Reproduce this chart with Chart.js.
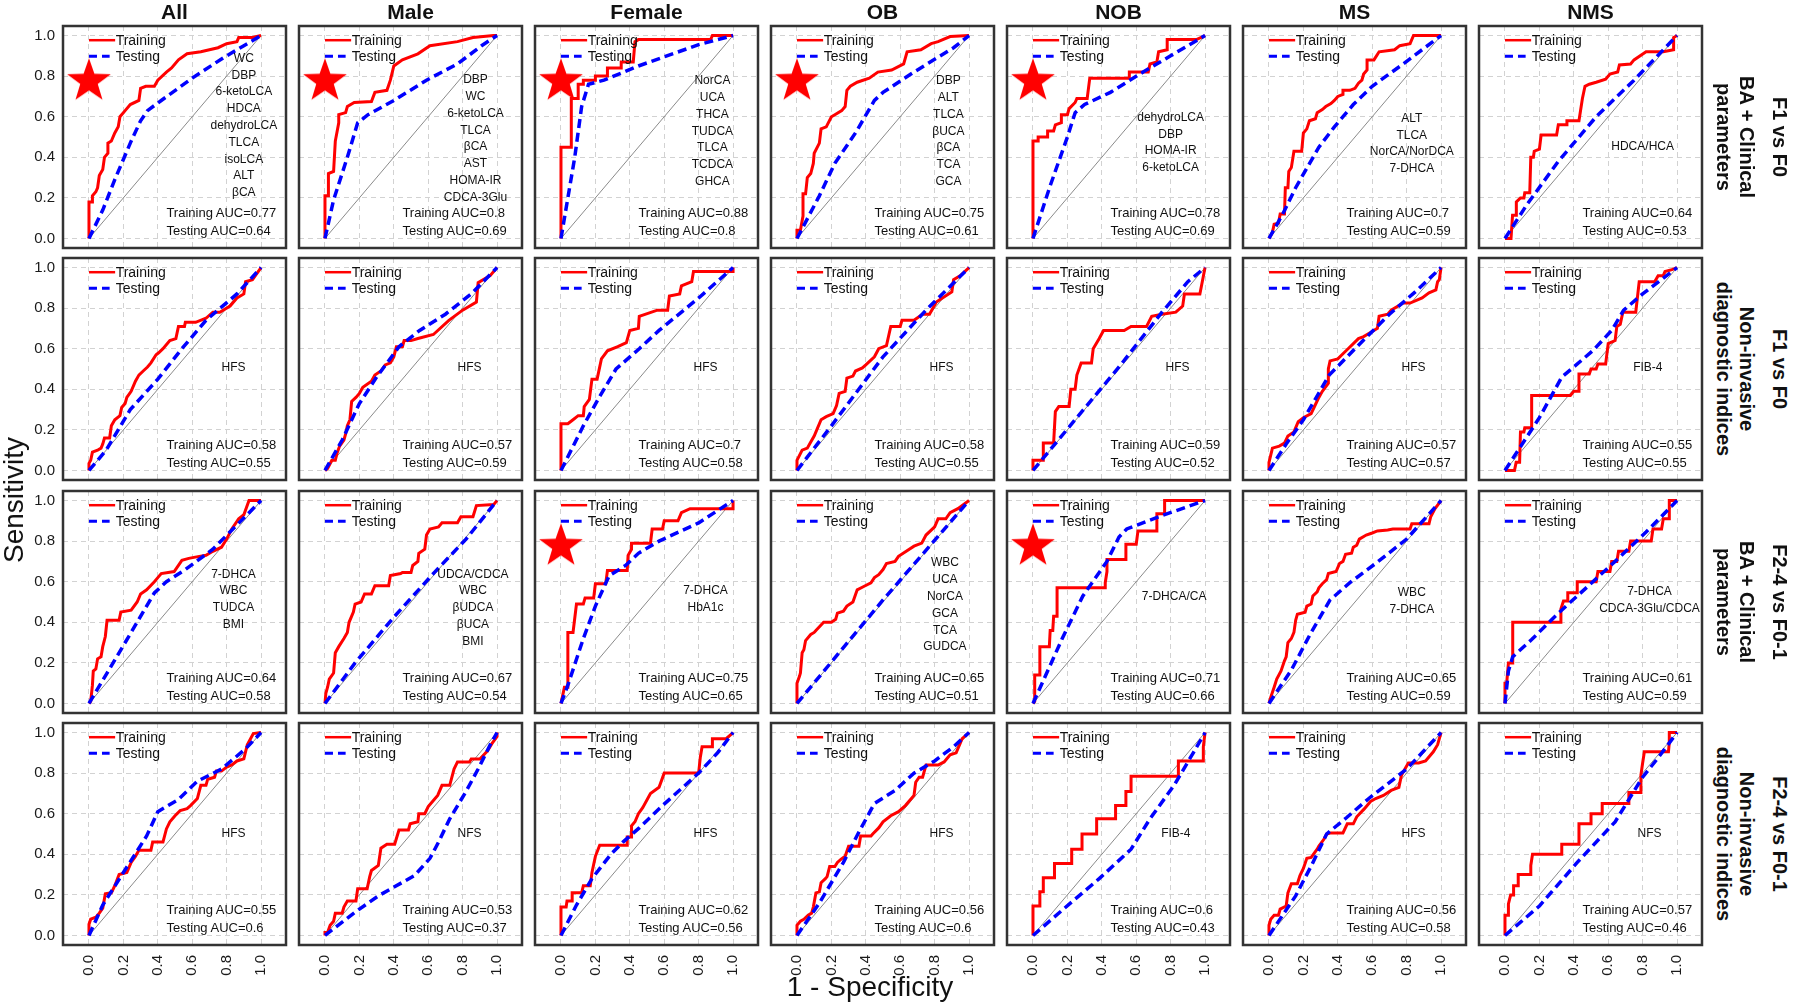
<!DOCTYPE html>
<html>
<head>
<meta charset="utf-8">
<script src="https://cdn.jsdelivr.net/npm/chart.js@4.4.1/dist/chart.umd.min.js"></script>
<style>
  body { margin: 0; background: #fff; }
  #fig { position: relative; width: 1800px; height: 1002px; overflow: hidden;
         font-family: "Liberation Sans", Arial, Helvetica, sans-serif; color: #111; background: #fff; }
  #fig canvas { position: absolute; }
  .lbl { position: absolute; white-space: nowrap; line-height: 1; }
  .ctr { transform: translate(-50%, -50%); text-align: center; }
  .lft { transform: translate(0, -50%); }
  .title { font-size: 21px; font-weight: bold; }
  .legend { font-size: 14px; }
  .feat { font-size: 12px; }
  .auc { font-size: 13px; }
  .rowgrp { font-size: 20px; font-weight: bold; line-height: 23px; text-align: center;
            transform: translate(-50%, -50%) rotate(90deg); }
  .rowcmp { font-size: 20px; font-weight: bold; transform: translate(-50%, -50%) rotate(90deg); }
  .axis { font-size: 28px; }
</style>
</head>
<body>
<div id="fig"></div>
<script>
// ---- labels ----
const COLUMNS = ['All', 'Male', 'Female', 'OB', 'NOB', 'MS', 'NMS'];
const ROW_GROUP = [['BA + Clinical', 'parameters'], ['Non-invasive', 'diagnostic indices'],
                   ['BA + Clinical', 'parameters'], ['Non-invasive', 'diagnostic indices']];
const ROW_CONTRAST = ['F1 vs F0', 'F1 vs F0', 'F2-4 vs F0-1', 'F2-4 vs F0-1'];
const TICKS = [0, 0.2, 0.4, 0.6, 0.8, 1.0];

// ---- AUC values (rows x columns) ----
const TRAIN_AUC = [
  [0.77, 0.8, 0.88, 0.75, 0.78, 0.7, 0.64],
  [0.58, 0.57, 0.7, 0.58, 0.59, 0.57, 0.55],
  [0.64, 0.67, 0.75, 0.65, 0.71, 0.65, 0.61],
  [0.55, 0.53, 0.62, 0.56, 0.6, 0.56, 0.57]
];
const TEST_AUC = [
  [0.64, 0.69, 0.8, 0.61, 0.69, 0.59, 0.53],
  [0.55, 0.59, 0.58, 0.55, 0.52, 0.57, 0.55],
  [0.58, 0.54, 0.65, 0.51, 0.66, 0.59, 0.59],
  [0.6, 0.37, 0.56, 0.6, 0.43, 0.58, 0.46]
];

// ---- selected features per panel ----
const FEATURES = [
  [['WC', 'DBP', '6-ketoLCA', 'HDCA', 'dehydroLCA', 'TLCA', 'isoLCA', 'ALT', 'βCA'],
   ['DBP', 'WC', '6-ketoLCA', 'TLCA', 'βCA', 'AST', 'HOMA-IR', 'CDCA-3Glu'],
   ['NorCA', 'UCA', 'THCA', 'TUDCA', 'TLCA', 'TCDCA', 'GHCA'],
   ['DBP', 'ALT', 'TLCA', 'βUCA', 'βCA', 'TCA', 'GCA'],
   ['dehydroLCA', 'DBP', 'HOMA-IR', '6-ketoLCA'],
   ['ALT', 'TLCA', 'NorCA/NorDCA', '7-DHCA'],
   ['HDCA/HCA']],
  [['HFS'], ['HFS'], ['HFS'], ['HFS'], ['HFS'], ['HFS'], ['FIB-4']],
  [['7-DHCA', 'WBC', 'TUDCA', 'BMI'],
   ['UDCA/CDCA', 'WBC', 'βUDCA', 'βUCA', 'BMI'],
   ['7-DHCA', 'HbA1c'],
   ['WBC', 'UCA', 'NorCA', 'GCA', 'TCA', 'GUDCA'],
   ['7-DHCA/CA'],
   ['WBC', '7-DHCA'],
   ['7-DHCA', 'CDCA-3Glu/CDCA']],
  [['HFS'], ['NFS'], ['HFS'], ['HFS'], ['FIB-4'], ['HFS'], ['NFS']]
];
const STARRED = [
  [1, 1, 1, 1, 1, 0, 0],
  [0, 0, 0, 0, 0, 0, 0],
  [0, 0, 1, 0, 1, 0, 0],
  [0, 0, 0, 0, 0, 0, 0]
];

// ---- ROC curves, [1 - specificity, sensitivity] ----
const TRAIN_F1_BA = [
  [[0,0],[0,0.18],[0.02,0.18],[0.02,0.21],[0.04,0.23],[0.05,0.25],[0.06,0.31],[0.08,0.34],[0.09,0.40],[0.11,0.42],[0.11,0.47],[0.13,0.48],[0.15,0.52],[0.17,0.55],[0.18,0.60],[0.21,0.63],[0.24,0.66],[0.29,0.68],[0.30,0.74],[0.33,0.75],[0.38,0.75],[0.40,0.78],[0.45,0.82],[0.48,0.84],[0.52,0.88],[0.57,0.91],[0.65,0.92],[0.75,0.94],[0.80,0.96],[0.86,0.97],[0.87,0.99],[0.95,0.99],[1,1]],
  [[0,0],[0,0.21],[0.02,0.21],[0.02,0.32],[0.05,0.33],[0.06,0.48],[0.08,0.57],[0.08,0.61],[0.12,0.62],[0.13,0.65],[0.17,0.67],[0.27,0.675],[0.29,0.72],[0.36,0.73],[0.38,0.78],[0.40,0.85],[0.45,0.88],[0.54,0.91],[0.61,0.95],[0.77,0.97],[0.86,0.99],[0.98,1],[1,1]],
  [[0,0],[0,0.45],[0.06,0.45],[0.06,0.69],[0.10,0.69],[0.10,0.76],[0.13,0.76],[0.13,0.78],[0.20,0.78],[0.20,0.80],[0.27,0.80],[0.27,0.84],[0.35,0.84],[0.35,0.87],[0.42,0.87],[0.43,0.97],[0.45,0.98],[0.87,0.98],[0.88,1],[1,1]],
  [[0,0],[0,0.04],[0.02,0.04],[0.035,0.11],[0.035,0.22],[0.05,0.22],[0.06,0.30],[0.08,0.32],[0.095,0.37],[0.10,0.42],[0.13,0.47],[0.14,0.54],[0.17,0.55],[0.20,0.60],[0.22,0.61],[0.26,0.63],[0.28,0.65],[0.29,0.73],[0.31,0.75],[0.35,0.77],[0.42,0.79],[0.47,0.82],[0.55,0.83],[0.62,0.86],[0.64,0.92],[0.72,0.93],[0.78,0.96],[0.82,0.97],[0.89,0.995],[1,1]],
  [[0,0],[0,0.48],[0.03,0.48],[0.03,0.50],[0.085,0.50],[0.085,0.53],[0.12,0.53],[0.13,0.56],[0.165,0.57],[0.165,0.61],[0.2,0.61],[0.21,0.64],[0.245,0.67],[0.255,0.69],[0.315,0.69],[0.33,0.79],[0.56,0.79],[0.56,0.82],[0.67,0.82],[0.68,0.86],[0.72,0.87],[0.73,0.92],[0.78,0.93],[0.78,0.98],[0.95,0.98],[1,1]],
  [[0,0],[0.02,0.03],[0.03,0.07],[0.055,0.075],[0.065,0.12],[0.09,0.12],[0.095,0.25],[0.11,0.25],[0.115,0.33],[0.13,0.35],[0.145,0.43],[0.19,0.43],[0.20,0.52],[0.22,0.54],[0.235,0.58],[0.27,0.59],[0.28,0.62],[0.31,0.635],[0.33,0.65],[0.36,0.665],[0.38,0.68],[0.40,0.70],[0.43,0.71],[0.43,0.73],[0.47,0.73],[0.50,0.74],[0.52,0.765],[0.54,0.78],[0.55,0.81],[0.57,0.83],[0.57,0.88],[0.61,0.88],[0.64,0.92],[0.73,0.93],[0.76,0.95],[0.82,0.96],[0.84,1],[1,1]],
  [[0,0],[0.035,0],[0.044,0.115],[0.066,0.115],[0.066,0.18],[0.09,0.20],[0.11,0.20],[0.115,0.225],[0.144,0.225],[0.15,0.40],[0.165,0.40],[0.17,0.43],[0.20,0.44],[0.21,0.51],[0.30,0.51],[0.31,0.56],[0.355,0.56],[0.36,0.58],[0.43,0.58],[0.45,0.69],[0.465,0.75],[0.49,0.76],[0.53,0.77],[0.585,0.785],[0.61,0.81],[0.655,0.82],[0.665,0.855],[0.73,0.86],[0.75,0.88],[0.82,0.92],[0.92,0.92],[0.98,0.93],[0.98,0.99],[1,1]]
];
const TEST_F1_BA = [
  [[0,0],[0.08,0.14],[0.15,0.29],[0.24,0.47],[0.30,0.58],[0.34,0.63],[0.42,0.68],[0.60,0.79],[0.78,0.89],[0.9,0.95],[1,1]],
  [[0,0],[0.05,0.19],[0.13,0.40],[0.19,0.57],[0.25,0.61],[0.40,0.68],[0.59,0.78],[0.77,0.86],[0.91,0.95],[1,1]],
  [[0,0],[0.04,0.2],[0.08,0.4],[0.12,0.65],[0.16,0.76],[0.25,0.78],[0.45,0.85],[0.8,0.955],[1,1]],
  [[0,0],[0.13,0.21],[0.22,0.37],[0.34,0.52],[0.45,0.68],[0.50,0.72],[0.68,0.82],[0.91,0.94],[1,1]],
  [[0,0],[0.1,0.26],[0.2,0.5],[0.245,0.62],[0.3,0.66],[0.45,0.72],[0.64,0.82],[0.8,0.9],[1,1]],
  [[0,0],[0.08,0.12],[0.155,0.25],[0.29,0.45],[0.38,0.55],[0.49,0.66],[0.6,0.75],[0.78,0.86],[1,1]],
  [[0,0],[0.13,0.17],[0.31,0.38],[0.53,0.6],[0.75,0.78],[1,1]]
];
const TRAIN_F1_NI = [
  [[0,0],[0,0.035],[0.01,0.05],[0.02,0.09],[0.05,0.10],[0.07,0.11],[0.08,0.13],[0.09,0.16],[0.12,0.16],[0.13,0.22],[0.15,0.25],[0.18,0.27],[0.19,0.31],[0.21,0.33],[0.22,0.36],[0.245,0.39],[0.27,0.44],[0.29,0.47],[0.315,0.49],[0.34,0.51],[0.36,0.53],[0.39,0.57],[0.405,0.58],[0.43,0.60],[0.47,0.64],[0.505,0.65],[0.52,0.71],[0.555,0.71],[0.56,0.73],[0.62,0.73],[0.68,0.75],[0.72,0.78],[0.76,0.78],[0.82,0.81],[0.86,0.85],[0.90,0.87],[0.91,0.93],[0.95,0.94],[1,1]],
  [[0,0],[0.015,0.01],[0.04,0.05],[0.06,0.05],[0.07,0.085],[0.085,0.12],[0.11,0.15],[0.12,0.18],[0.13,0.22],[0.145,0.25],[0.155,0.34],[0.18,0.36],[0.20,0.38],[0.22,0.41],[0.27,0.44],[0.29,0.47],[0.325,0.49],[0.35,0.52],[0.38,0.53],[0.40,0.56],[0.415,0.61],[0.45,0.61],[0.46,0.64],[0.50,0.64],[0.54,0.65],[0.63,0.67],[0.72,0.74],[0.80,0.79],[0.88,0.83],[0.89,0.925],[0.96,0.96],[1,1]],
  [[0,0],[0,0.23],[0.04,0.23],[0.07,0.25],[0.1,0.27],[0.13,0.27],[0.135,0.315],[0.165,0.35],[0.18,0.45],[0.21,0.45],[0.235,0.55],[0.27,0.59],[0.33,0.61],[0.38,0.63],[0.40,0.69],[0.45,0.70],[0.455,0.76],[0.56,0.79],[0.62,0.79],[0.63,0.86],[0.69,0.87],[0.70,0.91],[0.76,0.93],[0.77,0.98],[1,0.98],[1,1]],
  [[0,0],[0,0.05],[0.03,0.10],[0.06,0.11],[0.08,0.14],[0.10,0.17],[0.12,0.21],[0.14,0.25],[0.17,0.265],[0.21,0.28],[0.23,0.32],[0.245,0.38],[0.28,0.39],[0.29,0.455],[0.325,0.465],[0.34,0.49],[0.38,0.505],[0.40,0.52],[0.45,0.56],[0.475,0.60],[0.52,0.615],[0.545,0.71],[0.60,0.71],[0.61,0.74],[0.68,0.74],[0.73,0.77],[0.77,0.77],[0.81,0.83],[0.845,0.85],[0.9,0.88],[0.91,0.94],[0.95,0.96],[1,1]],
  [[0,0],[0,0.05],[0.06,0.05],[0.06,0.135],[0.12,0.135],[0.13,0.29],[0.15,0.315],[0.21,0.315],[0.22,0.40],[0.245,0.40],[0.255,0.47],[0.28,0.53],[0.34,0.53],[0.35,0.60],[0.385,0.65],[0.41,0.69],[0.53,0.69],[0.57,0.71],[0.66,0.71],[0.69,0.76],[0.75,0.77],[0.83,0.78],[0.87,0.81],[0.88,0.87],[0.97,0.87],[1,1]],
  [[0,0],[0,0.04],[0.02,0.11],[0.06,0.12],[0.09,0.135],[0.11,0.17],[0.145,0.19],[0.17,0.24],[0.2,0.26],[0.245,0.28],[0.27,0.325],[0.29,0.36],[0.31,0.39],[0.345,0.43],[0.345,0.50],[0.355,0.54],[0.40,0.55],[0.43,0.575],[0.46,0.60],[0.52,0.65],[0.55,0.66],[0.59,0.68],[0.63,0.70],[0.64,0.76],[0.69,0.77],[0.71,0.79],[0.78,0.825],[0.82,0.825],[0.89,0.85],[0.93,0.875],[0.97,0.89],[0.98,0.93],[0.99,0.94],[1,1]],
  [[0,0],[0.055,0],[0.065,0.04],[0.085,0.04],[0.09,0.19],[0.11,0.19],[0.115,0.21],[0.155,0.21],[0.155,0.37],[0.38,0.37],[0.40,0.39],[0.43,0.39],[0.43,0.475],[0.49,0.475],[0.50,0.50],[0.53,0.50],[0.54,0.525],[0.585,0.525],[0.60,0.625],[0.64,0.64],[0.65,0.71],[0.67,0.72],[0.685,0.78],[0.76,0.78],[0.78,0.93],[0.87,0.93],[0.89,0.96],[0.92,0.96],[0.93,0.98],[0.97,0.99],[1,1]]
];
const TEST_F1_NI = [
  [[0,0],[0.1,0.1],[0.24,0.30],[0.4,0.45],[0.54,0.6],[0.68,0.74],[0.86,0.87],[1,1]],
  [[0,0],[0.1,0.15],[0.2,0.33],[0.3,0.46],[0.43,0.61],[0.55,0.69],[0.7,0.77],[0.85,0.87],[1,1]],
  [[0,0],[0.13,0.22],[0.225,0.365],[0.32,0.5],[0.455,0.6],[0.57,0.69],[0.8,0.85],[1,1]],
  [[0,0],[0.2,0.22],[0.5,0.56],[0.75,0.79],[1,1]],
  [[0,0],[0.5,0.51],[0.75,0.78],[0.9,0.93],[1,1]],
  [[0,0],[0.1,0.13],[0.2,0.25],[0.35,0.47],[0.5,0.6],[0.7,0.77],[0.85,0.88],[1,1]],
  [[0,0],[0.2,0.26],[0.33,0.46],[0.51,0.59],[0.62,0.69],[0.69,0.79],[0.8,0.87],[1,1]]
];
const TRAIN_F24_BA = [
  [[0,0],[0.01,0.01],[0.02,0.09],[0.025,0.16],[0.04,0.17],[0.05,0.22],[0.07,0.23],[0.08,0.28],[0.095,0.33],[0.105,0.41],[0.175,0.41],[0.185,0.45],[0.245,0.46],[0.28,0.50],[0.30,0.54],[0.335,0.56],[0.38,0.60],[0.40,0.62],[0.42,0.64],[0.495,0.65],[0.52,0.68],[0.54,0.705],[0.58,0.715],[0.61,0.72],[0.68,0.73],[0.72,0.75],[0.77,0.77],[0.80,0.81],[0.83,0.86],[0.87,0.91],[0.90,0.93],[0.93,1],[1,1]],
  [[0,0],[0.005,0.05],[0.015,0.08],[0.025,0.12],[0.05,0.15],[0.06,0.25],[0.08,0.28],[0.11,0.32],[0.13,0.35],[0.14,0.40],[0.165,0.45],[0.175,0.49],[0.21,0.50],[0.23,0.54],[0.27,0.54],[0.29,0.58],[0.37,0.58],[0.38,0.63],[0.44,0.64],[0.45,0.645],[0.50,0.645],[0.51,0.68],[0.54,0.70],[0.545,0.74],[0.58,0.76],[0.59,0.83],[0.61,0.86],[0.66,0.87],[0.68,0.89],[0.77,0.89],[0.79,0.92],[0.86,0.92],[0.88,0.975],[0.98,0.98],[1,1]],
  [[0,0],[0.01,0.04],[0.02,0.08],[0.04,0.08],[0.04,0.35],[0.07,0.35],[0.09,0.49],[0.13,0.49],[0.14,0.52],[0.19,0.52],[0.20,0.59],[0.26,0.59],[0.27,0.655],[0.385,0.655],[0.39,0.73],[0.41,0.76],[0.41,0.79],[0.52,0.79],[0.53,0.86],[0.59,0.86],[0.60,0.90],[0.68,0.90],[0.70,0.94],[0.75,0.96],[1,0.96],[1,1]],
  [[0,0],[0,0.10],[0.015,0.135],[0.02,0.15],[0.03,0.25],[0.04,0.265],[0.05,0.31],[0.07,0.33],[0.08,0.34],[0.10,0.35],[0.11,0.36],[0.155,0.40],[0.20,0.40],[0.225,0.415],[0.235,0.445],[0.27,0.455],[0.29,0.48],[0.325,0.50],[0.35,0.56],[0.385,0.575],[0.43,0.595],[0.45,0.62],[0.475,0.635],[0.50,0.66],[0.52,0.69],[0.57,0.70],[0.59,0.725],[0.635,0.75],[0.68,0.775],[0.725,0.79],[0.75,0.83],[0.80,0.87],[0.82,0.91],[0.865,0.91],[0.89,0.94],[0.935,0.96],[1,1]],
  [[0,0],[0.01,0.01],[0.01,0.14],[0.04,0.14],[0.04,0.28],[0.095,0.28],[0.10,0.36],[0.115,0.36],[0.12,0.43],[0.14,0.43],[0.14,0.57],[0.42,0.57],[0.42,0.595],[0.43,0.65],[0.43,0.71],[0.54,0.71],[0.54,0.785],[0.60,0.785],[0.61,0.85],[0.72,0.85],[0.72,0.935],[0.765,0.935],[0.765,1],[1,1]],
  [[0,0],[0.01,0.03],[0.03,0.08],[0.045,0.12],[0.07,0.16],[0.09,0.21],[0.10,0.23],[0.11,0.30],[0.13,0.32],[0.145,0.35],[0.155,0.41],[0.165,0.44],[0.21,0.45],[0.22,0.48],[0.245,0.49],[0.255,0.53],[0.28,0.55],[0.29,0.57],[0.31,0.59],[0.335,0.61],[0.345,0.64],[0.39,0.65],[0.41,0.69],[0.43,0.70],[0.445,0.735],[0.48,0.74],[0.49,0.77],[0.51,0.78],[0.525,0.81],[0.565,0.83],[0.60,0.84],[0.63,0.85],[0.69,0.855],[0.72,0.86],[0.82,0.86],[0.83,0.885],[0.93,0.885],[0.94,0.92],[0.965,0.96],[1,1]],
  [[0,0],[0,0.10],[0.01,0.10],[0.02,0.20],[0.045,0.20],[0.045,0.40],[0.32,0.40],[0.325,0.465],[0.34,0.505],[0.365,0.505],[0.365,0.545],[0.42,0.545],[0.42,0.60],[0.53,0.60],[0.54,0.65],[0.61,0.65],[0.62,0.70],[0.65,0.70],[0.66,0.75],[0.72,0.75],[0.73,0.80],[0.85,0.80],[0.86,0.86],[0.91,0.86],[0.92,0.91],[0.955,0.91],[0.955,1],[1,1]]
];
const TEST_F24_BA = [
  [[0,0],[0.105,0.15],[0.245,0.35],[0.38,0.545],[0.45,0.6],[0.56,0.66],[0.72,0.76],[0.86,0.88],[1,1]],
  [[0,0],[0.175,0.2],[0.405,0.43],[0.635,0.645],[0.82,0.81],[1,1]],
  [[0,0],[0.04,0.09],[0.13,0.32],[0.20,0.48],[0.28,0.63],[0.375,0.68],[0.45,0.74],[0.57,0.80],[0.8,0.89],[1,1]],
  [[0,0],[0.5,0.51],[1,1]],
  [[0,0],[0.17,0.32],[0.29,0.53],[0.43,0.70],[0.5,0.82],[0.545,0.86],[0.73,0.92],[1,1]],
  [[0,0],[0.13,0.165],[0.245,0.35],[0.355,0.51],[0.47,0.595],[0.62,0.69],[0.8,0.81],[1,1]],
  [[0,0],[0.02,0.16],[0.045,0.23],[0.155,0.315],[0.31,0.445],[0.44,0.545],[0.64,0.70],[0.82,0.845],[1,1]]
];
const TRAIN_F24_NI = [
  [[0,0],[0,0.055],[0.01,0.08],[0.04,0.09],[0.06,0.11],[0.08,0.135],[0.095,0.205],[0.13,0.21],[0.15,0.245],[0.175,0.30],[0.22,0.31],[0.245,0.36],[0.27,0.39],[0.29,0.42],[0.36,0.42],[0.37,0.46],[0.43,0.46],[0.45,0.525],[0.47,0.56],[0.50,0.59],[0.53,0.615],[0.57,0.625],[0.59,0.64],[0.63,0.675],[0.65,0.74],[0.68,0.74],[0.69,0.77],[0.73,0.78],[0.74,0.81],[0.77,0.81],[0.80,0.83],[0.83,0.84],[0.86,0.86],[0.90,0.87],[0.92,0.94],[0.955,0.995],[1,1]],
  [[0,0],[0,0.015],[0.015,0.015],[0.03,0.05],[0.05,0.07],[0.06,0.11],[0.10,0.11],[0.11,0.14],[0.13,0.17],[0.18,0.17],[0.19,0.23],[0.245,0.23],[0.26,0.29],[0.27,0.32],[0.31,0.345],[0.325,0.43],[0.36,0.45],[0.405,0.45],[0.43,0.52],[0.485,0.52],[0.495,0.55],[0.54,0.56],[0.545,0.60],[0.58,0.60],[0.60,0.635],[0.635,0.67],[0.655,0.69],[0.68,0.74],[0.725,0.74],[0.75,0.82],[0.77,0.855],[0.84,0.855],[0.85,0.87],[0.90,0.87],[0.945,0.91],[0.97,0.945],[1,0.98],[1,1]],
  [[0,0],[0,0.14],[0.03,0.14],[0.035,0.17],[0.065,0.17],[0.065,0.21],[0.12,0.21],[0.13,0.245],[0.17,0.245],[0.18,0.31],[0.20,0.39],[0.225,0.445],[0.385,0.445],[0.385,0.485],[0.41,0.485],[0.41,0.54],[0.43,0.56],[0.45,0.60],[0.475,0.63],[0.52,0.70],[0.57,0.73],[0.60,0.80],[0.80,0.80],[0.81,0.88],[0.82,0.93],[0.88,0.93],[0.88,0.97],[0.96,0.97],[1,1]],
  [[0,0],[0,0.05],[0.02,0.07],[0.04,0.08],[0.065,0.10],[0.085,0.11],[0.095,0.14],[0.11,0.21],[0.13,0.215],[0.14,0.26],[0.165,0.28],[0.175,0.29],[0.19,0.34],[0.22,0.34],[0.235,0.36],[0.255,0.375],[0.28,0.39],[0.29,0.415],[0.30,0.44],[0.36,0.44],[0.37,0.49],[0.43,0.49],[0.44,0.50],[0.475,0.53],[0.50,0.56],[0.545,0.59],[0.59,0.61],[0.63,0.64],[0.68,0.69],[0.69,0.755],[0.71,0.78],[0.73,0.78],[0.75,0.84],[0.82,0.84],[0.855,0.855],[0.89,0.89],[0.925,0.90],[0.96,0.97],[1,1]],
  [[0,0],[0,0.145],[0.04,0.145],[0.04,0.215],[0.06,0.215],[0.06,0.285],[0.125,0.285],[0.125,0.355],[0.225,0.355],[0.225,0.425],[0.285,0.425],[0.285,0.50],[0.37,0.50],[0.37,0.575],[0.48,0.575],[0.48,0.64],[0.54,0.64],[0.54,0.71],[0.57,0.71],[0.57,0.785],[0.845,0.785],[0.845,0.86],[0.99,0.86],[0.99,0.93],[1,1]],
  [[0,0],[0,0.05],[0.01,0.08],[0.03,0.10],[0.055,0.10],[0.065,0.13],[0.10,0.145],[0.11,0.21],[0.13,0.255],[0.165,0.255],[0.18,0.295],[0.20,0.33],[0.22,0.38],[0.245,0.385],[0.28,0.425],[0.29,0.44],[0.32,0.475],[0.335,0.50],[0.355,0.505],[0.43,0.505],[0.455,0.55],[0.49,0.55],[0.51,0.585],[0.555,0.625],[0.59,0.66],[0.62,0.675],[0.665,0.69],[0.71,0.715],[0.755,0.73],[0.77,0.79],[0.79,0.82],[0.81,0.85],[0.87,0.85],[0.91,0.86],[0.955,0.905],[0.98,0.94],[1,1]],
  [[0,0],[0,0.10],[0.02,0.10],[0.02,0.155],[0.033,0.20],[0.05,0.20],[0.05,0.245],[0.077,0.245],[0.077,0.30],[0.15,0.30],[0.15,0.345],[0.16,0.40],[0.33,0.40],[0.33,0.45],[0.43,0.45],[0.43,0.55],[0.50,0.55],[0.50,0.60],[0.565,0.60],[0.565,0.65],[0.72,0.65],[0.72,0.705],[0.785,0.705],[0.79,0.79],[0.80,0.85],[0.81,0.905],[0.95,0.905],[0.955,0.95],[0.955,1],[1,1]]
];
const TEST_F24_NI = [
  [[0,0],[0.08,0.15],[0.2,0.31],[0.335,0.49],[0.4,0.61],[0.52,0.67],[0.63,0.76],[0.77,0.82],[0.91,0.92],[1,1]],
  [[0,0],[0.175,0.115],[0.31,0.195],[0.52,0.295],[0.61,0.38],[0.66,0.46],[0.725,0.575],[0.82,0.71],[0.89,0.82],[0.96,0.94],[1,1]],
  [[0,0],[0.09,0.15],[0.18,0.28],[0.29,0.40],[0.36,0.46],[0.455,0.53],[0.59,0.64],[0.8,0.8],[0.91,0.9],[1,1]],
  [[0,0],[0.13,0.16],[0.27,0.36],[0.36,0.51],[0.45,0.65],[0.57,0.715],[0.68,0.8],[0.8,0.86],[0.91,0.93],[1,1]],
  [[0,0],[0.225,0.165],[0.385,0.28],[0.57,0.425],[0.68,0.575],[0.82,0.74],[0.935,0.905],[1,1]],
  [[0,0],[0.155,0.195],[0.25,0.35],[0.335,0.5],[0.45,0.58],[0.58,0.675],[0.8,0.82],[1,1]],
  [[0,0],[0.2,0.145],[0.42,0.36],[0.64,0.56],[0.8,0.78],[0.885,0.87],[1,1]]
];

const TRAIN = [TRAIN_F1_BA, TRAIN_F1_NI, TRAIN_F24_BA, TRAIN_F24_NI];
const TEST = [TEST_F1_BA, TEST_F1_NI, TEST_F24_BA, TEST_F24_NI];

// ---- layout (not data) ----
const PANEL_LEFT = 63, PITCH_X = 236, PANEL_W = 223;
const PANEL_TOP = 26, PITCH_Y = 232.3, PANEL_H = 222;
const X_MIN = -0.151, X_MAX = 1.145, Y_MIN = -0.047, Y_MAX = 1.047;
const PAD = 4;
// feature text anchor: [centre x, first line y] in data units
const FEAT_AT = [
  [[0.90, 0.89], [0.875, 0.785], [0.88, 0.78], [0.88, 0.78], [0.80, 0.60], [0.83, 0.595], [0.80, 0.457]],
  [[0.84, 0.51], [0.84, 0.51], [0.84, 0.51], [0.84, 0.51], [0.84, 0.51], [0.84, 0.51], [0.83, 0.51]],
  [[0.84, 0.64], [0.86, 0.64], [0.84, 0.56], [0.86, 0.695], [0.82, 0.53], [0.83, 0.55], [0.84, 0.555]],
  [[0.84, 0.505], [0.84, 0.505], [0.84, 0.505], [0.84, 0.505], [0.83, 0.505], [0.84, 0.505], [0.84, 0.505]]
];
const FEAT_LINE = 16.8;

const RED = '#ff0000', BLUE = '#0000ff';
const FONT = '"Liberation Sans", Arial, Helvetica, sans-serif';
const fig = document.getElementById('fig');

function addText(txt, cls, x, y) {
  const d = document.createElement('div');
  d.className = 'lbl ' + cls;
  d.innerHTML = txt;
  d.style.left = x + 'px';
  d.style.top = y + 'px';
  fig.appendChild(d);
  return d;
}

function makeStar(R) {
  const s = Math.ceil(2 * R + 2);
  const cv = document.createElement('canvas');
  cv.width = cv.height = s;
  const g = cv.getContext('2d');
  g.fillStyle = RED;
  g.beginPath();
  for (let i = 0; i < 10; i++) {
    const rad = i % 2 ? R * 0.4 : R;
    const ang = -Math.PI / 2 + i * Math.PI / 5;
    g.lineTo(s / 2 + rad * Math.cos(ang), s / 2 + rad * Math.sin(ang));
  }
  g.closePath();
  g.fill();
  return cv;
}
const STAR = makeStar(23);

// frame + legend keys
const panelFrame = {
  id: 'panelFrame',
  afterDatasetsDraw(chart) {
    const { ctx, chartArea: a, scales: { x, y } } = chart;
    ctx.save();
    ctx.lineCap = 'butt';
    ctx.strokeStyle = RED;
    ctx.lineWidth = 2.5;
    ctx.beginPath();
    ctx.moveTo(x.getPixelForValue(0), y.getPixelForValue(0.977));
    ctx.lineTo(x.getPixelForValue(0.152), y.getPixelForValue(0.977));
    ctx.stroke();
    ctx.strokeStyle = BLUE;
    ctx.lineWidth = 3;
    ctx.setLineDash([8, 5]);
    ctx.beginPath();
    ctx.moveTo(x.getPixelForValue(0), y.getPixelForValue(0.898));
    ctx.lineTo(x.getPixelForValue(0.12), y.getPixelForValue(0.898));
    ctx.stroke();
    ctx.setLineDash([]);
    ctx.strokeStyle = '#333';
    ctx.lineWidth = 2.5;
    ctx.strokeRect(a.left, a.top, a.right - a.left, a.bottom - a.top);
    ctx.restore();
  }
};

const pts = arr => arr.map(p => ({ x: p[0], y: p[1] }));
// keep every panel's plot box the same size, whatever its labels
const noOverflow = s => { s.paddingTop = s.paddingBottom = s.paddingLeft = s.paddingRight = 0; };

for (let r = 0; r < 4; r++) {
  for (let c = 0; c < 7; c++) {
    const ml = c === 0 ? 58 : 0;
    const mb = r === 3 ? 46 : 0;
    const left = Math.round(PANEL_LEFT + c * PITCH_X) - ml - PAD;
    const top = Math.round(PANEL_TOP + r * PITCH_Y) - PAD;
    const cv = document.createElement('canvas');
    cv.width = ml + PANEL_W + 2 * PAD;
    cv.height = PANEL_H + mb + 2 * PAD;
    cv.style.left = left + 'px';
    cv.style.top = top + 'px';
    cv.style.width = cv.width + 'px';
    cv.style.height = cv.height + 'px';
    fig.appendChild(cv);

    const datasets = [
      { data: pts([[0, 0], [1, 1]]), borderColor: '#8a8a8a', borderWidth: 1, order: 4 },
      { data: pts(TRAIN[r][c]), borderColor: RED, borderWidth: 3, order: 3, borderJoinStyle: 'miter' },
      { data: pts(TEST[r][c]), borderColor: BLUE, borderWidth: 3.5, borderDash: [9, 5], order: 2 }
    ].map(d => Object.assign({ showLine: true, pointRadius: 0, tension: 0, fill: false }, d));
    if (STARRED[r][c]) {
      datasets.push({ data: [{ x: 0, y: 0.775 }], showLine: false, pointStyle: STAR,
                      pointRadius: 23, order: 5 });
    }

    const tickFont = { family: FONT, size: 15 };
    const chart = new Chart(cv, {
      type: 'scatter',
      data: { datasets },
      options: {
        responsive: false,
        animation: false,
        devicePixelRatio: 1,
        events: [],
        layout: { padding: PAD, autoPadding: false },
        plugins: { legend: { display: false }, tooltip: { enabled: false } },
        scales: {
          x: {
            type: 'linear', position: 'bottom', min: X_MIN, max: X_MAX,
            afterBuildTicks: s => { s.ticks = TICKS.map(v => ({ value: v })); },
            afterFit: s => { s.height = mb; noOverflow(s); },
            grid: { color: '#d2d2d2', lineWidth: 1, drawTicks: false },
            border: { display: false, dash: [5, 4] },
            ticks: { display: r === 3, autoSkip: false, minRotation: 90, maxRotation: 90,
                     padding: 10, color: '#1a1a1a', font: tickFont,
                     callback: v => v.toFixed(1) }
          },
          y: {
            type: 'linear', position: 'left', min: Y_MIN, max: Y_MAX,
            afterBuildTicks: s => { s.ticks = TICKS.map(v => ({ value: v })); },
            afterFit: s => { s.width = ml; noOverflow(s); },
            grid: { color: '#d2d2d2', lineWidth: 1, drawTicks: false },
            border: { display: false, dash: [5, 4] },
            ticks: { display: c === 0, padding: 8, color: '#1a1a1a', font: tickFont,
                     callback: v => v.toFixed(1) }
          }
        }
      },
      plugins: [panelFrame]
    });

    const X = v => left + chart.scales.x.getPixelForValue(v);
    const Y = v => top + chart.scales.y.getPixelForValue(v);

    addText('Training', 'legend lft', X(0.155), Y(0.977));
    addText('Testing', 'legend lft', X(0.155), Y(0.898));
    const [fx, fy] = FEAT_AT[r][c];
    FEATURES[r][c].forEach((f, i) => addText(f, 'feat ctr', X(fx), Y(fy) + i * FEAT_LINE));
    addText('Training AUC=' + TRAIN_AUC[r][c], 'auc lft', X(0.45), Y(0.13));
    addText('Testing AUC=' + TEST_AUC[r][c], 'auc lft', X(0.45), Y(0.04));
  }
}

COLUMNS.forEach((name, c) => addText(name, 'title ctr', PANEL_LEFT + c * PITCH_X + PANEL_W / 2, 11));
for (let r = 0; r < 4; r++) {
  const cy = PANEL_TOP + r * PITCH_Y + PANEL_H / 2;
  addText(ROW_GROUP[r].join('<br>'), 'rowgrp', 1735, cy);
  addText(ROW_CONTRAST[r], 'rowcmp', 1780, cy);
}
const sens = addText('Sensitivity', 'axis', 14, 500);
sens.style.transform = 'translate(-50%, -50%) rotate(-90deg)';
addText('1 - Specificity', 'axis ctr', 870, 987);
</script>
</body>
</html>
